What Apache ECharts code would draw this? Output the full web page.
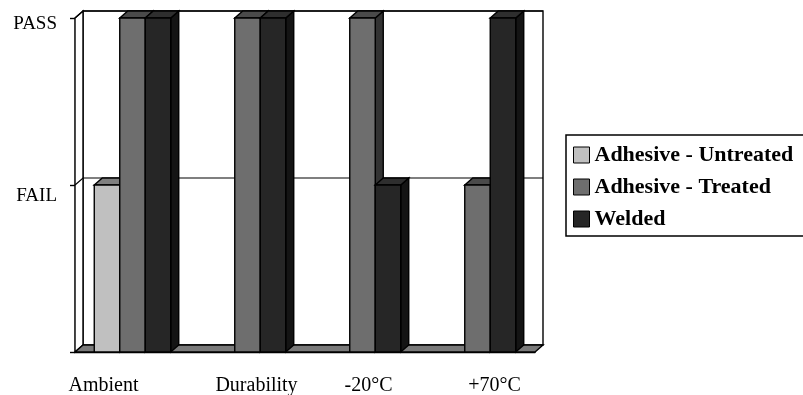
<!DOCTYPE html>
<html>
<head>
<meta charset="utf-8">
<script src="https://cdn.jsdelivr.net/npm/echarts@6/dist/echarts.min.js"></script>
<style>
html, body { margin: 0; padding: 0; background: #fff; }
#chart { width: 803px; height: 395px; }
</style>
</head>
<body>
<div id="chart"></div>
<script>
var categories = ['Ambient', 'Durability', '-20°C', '+70°C'];
var levelLabels = ['', 'FAIL', 'PASS'];
var seriesNames = ['Adhesive - Untreated', 'Adhesive - Treated', 'Welded'];
// 0 = no result, 1 = FAIL, 2 = PASS
var untreated = [1, 0, 0, 0];
var treated = [2, 2, 2, 1];
var welded = [2, 2, 1, 2];

var DEPTH = [8, -7];   // 3d offset of the back faces
var GROUP = 0.665;     // share of a category taken by the three bars
var faces = [
    { front: '#c0c0c0', top: '#808080', side: '#5a5a5a' },
    { front: '#6e6e6e', top: '#4a4a4a', side: '#333333' },
    { front: '#262626', top: '#2e2e2e', side: '#141414' }
];
var serif = 'Liberation Serif, Times New Roman, serif';
var LW = 1.4;

// walls + floor of the 3d box
function renderFrame(params, api) {
    var cs = params.coordSys;
    var L = cs.x, R = cs.x + cs.width, T = cs.y, B = cs.y + cs.height;
    var dx = DEPTH[0], dy = DEPTH[1];
    var children = [
        { type: 'rect', shape: { x: L + dx, y: T + dy, width: cs.width, height: cs.height },
          style: { fill: '#fff', stroke: '#000', lineWidth: LW } },
        { type: 'polygon', shape: { points: [[L, T], [L + dx, T + dy], [L + dx, B + dy], [L, B]] },
          style: { fill: '#fff', stroke: '#000', lineWidth: LW } },
        { type: 'polygon', shape: { points: [[L, B], [R, B], [R + dx, B + dy], [L + dx, B + dy]] },
          style: { fill: '#7a7a7a', stroke: '#000', lineWidth: LW } }
    ];
    for (var v = 1; v < levelLabels.length; v++) {
        var y = api.coord([0, v])[1];
        children.push({ type: 'polyline', shape: { points: [[L, y], [L + dx, y + dy], [R + dx, y + dy]] },
            style: { fill: null, stroke: '#000', lineWidth: 1.2 } });
    }
    return { type: 'group', children: children };
}

function makeBarSeries(k, values) {
    return {
        name: seriesNames[k],
        type: 'custom',
        clip: false,
        itemStyle: { color: faces[k].front },
        data: values.map(function (v, i) { return [i, v]; }),
        renderItem: function (params, api) {
            var val = api.value(1);
            if (!val) return null;
            var band = api.size([1, 0])[0];
            var w = band * GROUP / 3;
            var c = api.coord([api.value(0), 0]);
            var t = api.coord([api.value(0), val]);
            var x0 = c[0] - band * GROUP / 2 + k * w, x1 = x0 + w;
            var yb = c[1], yt = t[1];
            var dx = DEPTH[0], dy = DEPTH[1];
            var st = { stroke: '#000', lineWidth: LW };
            return {
                type: 'group',
                children: [
                    { type: 'polygon', shape: { points: [[x1, yt], [x1 + dx, yt + dy], [x1 + dx, yb + dy], [x1, yb]] },
                      style: Object.assign({ fill: faces[k].side }, st) },
                    { type: 'polygon', shape: { points: [[x0, yt], [x1, yt], [x1 + dx, yt + dy], [x0 + dx, yt + dy]] },
                      style: Object.assign({ fill: faces[k].top }, st) },
                    { type: 'rect', shape: { x: x0, y: yt, width: w, height: yb - yt },
                      style: Object.assign({ fill: faces[k].front }, st) }
                ]
            };
        }
    };
}

var option = {
    backgroundColor: '#fff',
    animation: false,
    grid: { left: 75, top: 18, width: 460, height: 334, containLabel: false, outerBoundsMode: 'none' },
    legend: {
        orient: 'vertical',
        left: 566,
        top: 135,
        data: seriesNames,
        icon: 'rect',
        itemWidth: 16,
        itemHeight: 16,
        itemGap: 8,
        padding: [8, 30, 5, 7],
        borderColor: '#000',
        borderWidth: 1.5,
        selectedMode: false,
        itemStyle: { borderColor: '#000', borderWidth: 1 },
        textStyle: { fontFamily: serif, fontWeight: 'bold', fontSize: 22, color: '#000', lineHeight: 24 }
    },
    xAxis: {
        type: 'category',
        data: categories,
        axisLine: { lineStyle: { color: '#000', width: LW } },
        axisTick: { length: 5, lineStyle: { color: '#000', width: LW } },
        axisLabel: {
            interval: 0,
            margin: 24,
            color: '#000',
            fontFamily: serif,
            fontSize: 20,
            formatter: function (value, index) { return '{c' + index + '|' + value + '}'; },
            rich: {
                c0: { fontFamily: serif, fontSize: 20, color: '#000', padding: [0, 58, 0, 0] },
                c1: { fontFamily: serif, fontSize: 20, color: '#000', padding: [0, 0, 0, 18] },
                c2: { fontFamily: serif, fontSize: 20, color: '#000', padding: [0, 0, 0, 12] },
                c3: { fontFamily: serif, fontSize: 20, color: '#000', padding: [0, 0, 0, 34] }
            }
        }
    },
    yAxis: {
        type: 'value',
        min: 0,
        max: 2,
        interval: 1,
        axisLine: { show: true, lineStyle: { color: '#000', width: LW } },
        axisTick: { show: true, length: 5, lineStyle: { color: '#000', width: LW } },
        splitLine: { show: false },
        axisLabel: {
            margin: 18,
            color: '#000',
            fontFamily: serif,
            fontSize: 19,
            formatter: function (value) {
                var s = levelLabels[value];
                if (!s) return '';
                return value === 2 ? '{p|' + s + '}' : '{f|' + s + '}';
            },
            rich: {
                p: { fontFamily: serif, fontSize: 19, color: '#000', padding: [12, 0, 0, 0] },
                f: { fontFamily: serif, fontSize: 19, color: '#000', padding: [22, 0, 0, 0] }
            }
        }
    },
    series: [
        { type: 'custom', silent: true, clip: false, data: [[0, 0]], renderItem: renderFrame, z: 1 },
        makeBarSeries(0, untreated),
        makeBarSeries(1, treated),
        makeBarSeries(2, welded)
    ]
};

var chart = echarts.init(document.getElementById('chart'));
chart.setOption(option);
</script>
</body>
</html>
